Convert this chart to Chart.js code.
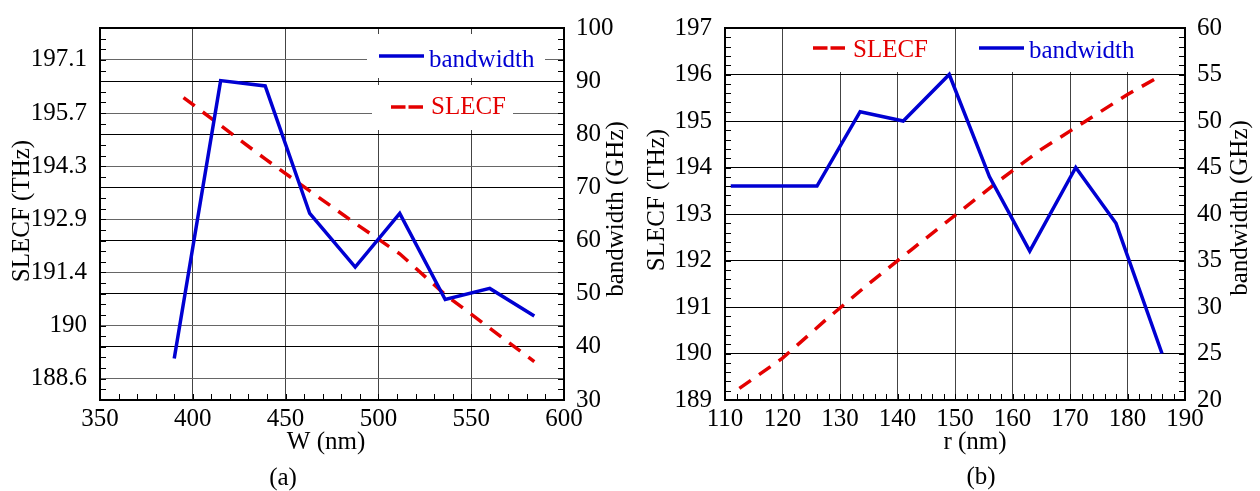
<!DOCTYPE html>
<html>
<head>
<meta charset="utf-8">
<script src="https://cdn.jsdelivr.net/npm/chart.js@4.4.0/dist/chart.umd.min.js"></script>
<style>
  body { margin: 0; background: #fff; }
  .wrap { position: absolute; top: 0; width: 630px; height: 491px; }
</style>
</head>
<body>
<div class="wrap" style="left:0"><canvas id="chartA" width="630" height="491"></canvas></div>
<div class="wrap" style="left:630px"><canvas id="chartB" width="630" height="491"></canvas></div>
<script>
// panel (a): sweep of W
var widthNm = [390, 415, 439, 463, 487.5, 511.5, 536, 560, 584];
var bandwidthA = [37.8, 90.1, 89.1, 65.1, 55, 65.1, 48.9, 51, 45.8];
var slecfWidthNm = [395, 415, 439, 463, 487.5, 511.5, 536, 560, 584];
var slecfA = [196.13, 195.38, 194.48, 193.62, 192.75, 191.93, 190.83, 189.93, 189.03];
var leftTicksA = [188.571, 190, 191.429, 192.857, 194.286, 195.714, 197.143];
var leftTickLabelsA = ['188.6', '190', '191.4', '192.9', '194.3', '195.7', '197.1'];

// panel (b): sweep of r
var radiusNm = [111, 126, 133.5, 141, 149, 156, 163, 171, 178, 186];
var bandwidthB = [43, 43, 51, 50, 55, 44, 36, 45, 39, 25];
var slecfRadiusNm = [112.5, 120, 127.5, 135, 142.5, 150, 157.5, 165, 172.5, 180, 185];
var slecfB = [189.25, 189.9, 190.72, 191.5, 192.24, 192.97, 193.7, 194.39, 194.98, 195.57, 195.92];

var BLUE = '#0000d2';
var RED = '#e40000';
var FONT = "'Liberation Serif', 'Times New Roman', serif";
var FSIZE = 25;

function pts(xs, ys) {
  var out = [];
  for (var i = 0; i < xs.length; i++) out.push({x: xs[i], y: ys[i]});
  return out;
}

function minorTicks(ctx, scale, area, side, base, step, len) {
  var start = base + Math.ceil((scale.min - base) / step - 1e-6) * step;
  ctx.beginPath();
  for (var v = start; v <= scale.max + 1e-6; v += step) {
    var p = Math.round(scale.getPixelForValue(v)) + 0.5;
    if (side === 'bottom') { ctx.moveTo(p, area.bottom); ctx.lineTo(p, area.bottom - len); }
    if (side === 'left') { ctx.moveTo(area.left, p); ctx.lineTo(area.left + len, p); }
    if (side === 'right') { ctx.moveTo(area.right, p); ctx.lineTo(area.right - len, p); }
  }
  ctx.stroke();
}

function text(ctx, str, x, y, color, rot, align) {
  ctx.save();
  ctx.translate(x, y);
  if (rot) ctx.rotate(rot);
  ctx.fillStyle = color || '#000';
  ctx.font = FSIZE + 'px ' + FONT;
  ctx.textAlign = align || 'center';
  ctx.textBaseline = align ? 'alphabetic' : 'middle';
  ctx.fillText(str, 0, 0);
  ctx.restore();
}

var decor = {
  id: 'decor',
  beforeDatasetsDraw: function(chart, args, o) {
    var ctx = chart.ctx;
    ctx.save();
    o.legend.forEach(function(it) {
      ctx.fillStyle = '#fff';
      ctx.fillRect(it.box[0], it.box[1], it.box[2] - it.box[0], it.box[3] - it.box[1]);
      ctx.strokeStyle = it.color;
      ctx.lineWidth = 3.5;
      ctx.beginPath();
      if (it.dashed) {
        var seg = (it.line[1] - it.line[0] - 3) / 2;
        ctx.moveTo(it.line[0], it.line[2]); ctx.lineTo(it.line[0] + seg, it.line[2]);
        ctx.moveTo(it.line[1] - seg, it.line[2]); ctx.lineTo(it.line[1], it.line[2]);
      } else {
        ctx.moveTo(it.line[0], it.line[2]); ctx.lineTo(it.line[1], it.line[2]);
      }
      ctx.stroke();
      text(ctx, it.label, it.text[0], it.text[1], it.color, 0, 'left');
    });
    ctx.restore();
  },
  afterDraw: function(chart, args, o) {
    var ctx = chart.ctx, a = chart.chartArea, s = chart.scales;
    ctx.save();
    ctx.strokeStyle = '#000';
    ctx.lineWidth = 1;
    minorTicks(ctx, s.x, a, 'bottom', s.x.min, o.xStep, 6);
    minorTicks(ctx, s.y, a, 'left', o.leftBase, o.leftStep, 6);
    minorTicks(ctx, s.y2, a, 'right', s.y2.min, o.rightStep, 6);
    ctx.lineWidth = 2;
    ctx.strokeRect(a.left, a.top, a.right - a.left, a.bottom - a.top);
    o.titles.forEach(function(t) { text(ctx, t[0], t[1], t[2], '#000', t[3]); });
    ctx.restore();
  }
};

function axisFit(w, h) {
  return function(scale) {
    if (w) scale.width = w;
    if (h) scale.height = h;
  };
}

function makeChart(id, cfg) {
  var tickFont = {family: FONT, size: FSIZE};
  return new Chart(document.getElementById(id), {
    type: 'line',
    data: {
      datasets: [{
        label: 'bandwidth',
        data: cfg.blue,
        yAxisID: 'y2',
        borderColor: BLUE,
        borderWidth: 3.5,
        pointRadius: 0,
        tension: 0
      }, {
        label: 'SLECF',
        data: cfg.red,
        yAxisID: 'y',
        borderColor: RED,
        borderWidth: 3.5,
        borderDash: [14, 10],
        pointRadius: 0,
        tension: 0
      }]
    },
    plugins: [decor],
    options: {
      responsive: false,
      animation: false,
      devicePixelRatio: 1,
      layout: {padding: {top: cfg.top, left: 0, right: 0, bottom: 0}, autoPadding: false},
      plugins: {
        legend: {display: false},
        tooltip: {enabled: false},
        decor: cfg.decor
      },
      scales: {
        x: {
          type: 'linear',
          min: cfg.xMin, max: cfg.xMax,
          afterFit: axisFit(0, 491 - 400),
          border: {display: false},
          grid: {color: '#444', lineWidth: 1, drawTicks: false},
          ticks: {stepSize: cfg.xStep, autoSkip: false, maxRotation: 0, padding: 4, color: '#000', font: tickFont}
        },
        y: {
          position: 'left',
          min: cfg.yMin, max: cfg.yMax,
          afterFit: axisFit(cfg.leftW, 0),
          afterBuildTicks: cfg.leftTicks ? function(sc) {
            sc.ticks = cfg.leftTicks.map(function(v) { return {value: v}; });
          } : undefined,
          border: {display: false},
          grid: {color: cfg.leftGrid, lineWidth: 1, drawTicks: false},
          ticks: {
            stepSize: cfg.yStep, autoSkip: false, padding: 13, color: '#000', font: tickFont,
            callback: cfg.leftLabels ? function(v, i) { return cfg.leftLabels[i]; } : undefined
          }
        },
        y2: {
          position: 'right',
          min: cfg.y2Min, max: cfg.y2Max,
          afterFit: axisFit(cfg.rightW, 0),
          border: {display: false},
          grid: {color: '#000', lineWidth: 1, drawTicks: false},
          ticks: {stepSize: cfg.y2Step, autoSkip: false, padding: 12, color: '#000', font: tickFont}
        }
      }
    }
  });
}

function drawAll() {
  makeChart('chartA', {
    blue: pts(widthNm, bandwidthA),
    red: pts(slecfWidthNm, slecfA),
    top: 23, leftW: 100, rightW: 66,
    xMin: 350, xMax: 600, xStep: 50,
    yMin: 188, yMax: 198, leftTicks: leftTicksA, leftLabels: leftTickLabelsA, leftGrid: '#666',
    y2Min: 30, y2Max: 100, y2Step: 10,
    decor: {
      xStep: 10, leftBase: 190, leftStep: 10 / 35, rightStep: 2,
      legend: [
        {label: 'bandwidth', color: BLUE, dashed: false, box: [367, 34, 545, 78], line: [379, 424, 56], text: [429, 67]},
        {label: 'SLECF', color: RED, dashed: true, box: [372, 85, 513, 130], line: [391, 423, 107], text: [431, 114]}
      ],
      titles: [
        ['SLECF (THz)', 22, 211, -Math.PI / 2],
        ['bandwidth (GHz)', 616, 209, -Math.PI / 2],
        ['W (nm)', 326, 442, 0],
        ['(a)', 283, 478, 0]
      ]
    }
  });

  makeChart('chartB', {
    blue: pts(radiusNm, bandwidthB),
    red: pts(slecfRadiusNm, slecfB),
    top: 20, leftW: 95, rightW: 75,
    xMin: 110, xMax: 190, xStep: 10,
    yMin: 189, yMax: 197, yStep: 1, leftGrid: '#000',
    y2Min: 20, y2Max: 60, y2Step: 5,
    decor: {
      xStep: 2, leftBase: 189, leftStep: 0.2, rightStep: 1,
      legend: [
        {label: 'SLECF', color: RED, dashed: true, box: [163, 27, 305, 72], line: [183, 215, 48], text: [223, 57]},
        {label: 'bandwidth', color: BLUE, dashed: false, box: [340, 27, 512, 72], line: [349, 394, 48], text: [399, 58]}
      ],
      titles: [
        ['SLECF (THz)', 27, 200, -Math.PI / 2],
        ['bandwidth (GHz)', 610, 208, -Math.PI / 2],
        ['r (nm)', 345, 442, 0],
        ['(b)', 351, 477, 0]
      ]
    }
  });
}

if (document.fonts && document.fonts.load) {
  document.fonts.load(FSIZE + "px 'Liberation Serif'").then(drawAll, drawAll);
} else {
  drawAll();
}
</script>
</body>
</html>
